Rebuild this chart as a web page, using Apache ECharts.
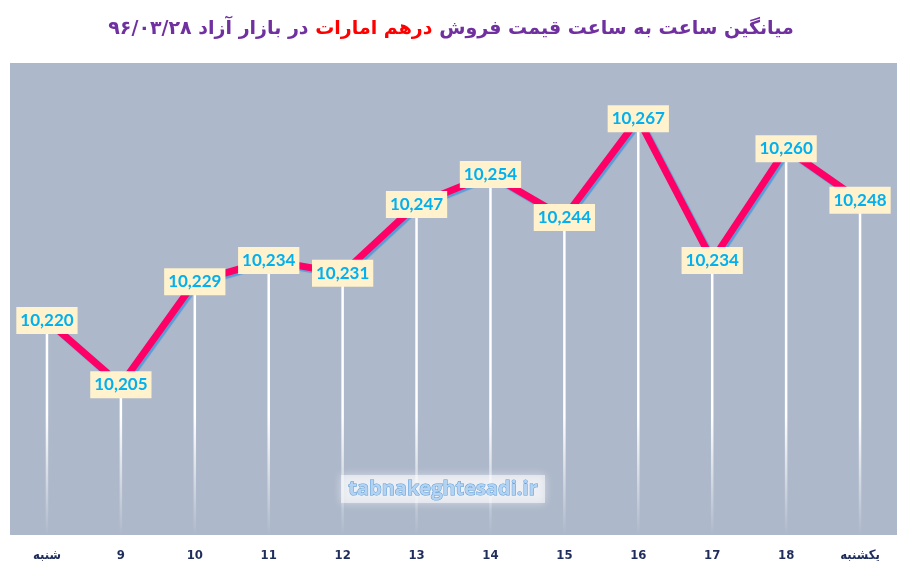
<!DOCTYPE html>
<html>
<head>
<meta charset="utf-8">
<script src="https://cdn.jsdelivr.net/npm/echarts@6/dist/echarts.min.js"></script>
<style>
  html, body { margin: 0; padding: 0; background: #fff; }
  #main { width: 902px; height: 567px; }
</style>
</head>
<body>
<div id="main"></div>
<script>
// hours of the day (first = Saturday, last = Sunday)
var categories = ['شنبه', '9', '10', '11', '12', '13', '14', '15', '16', '17', '18', 'یکشنبه'];
var prices = [10220, 10205, 10229, 10234, 10231, 10247, 10254, 10244, 10267, 10234, 10260, 10248];
var yMin = 10170;
var yMax = 10280;

var chart = echarts.init(document.getElementById('main'));

chart.setOption({
    backgroundColor: '#ffffff',
    animation: false,
    title: {
        left: 'center',
        top: 15,
        text: '{p|در بازار آزاد ۹۶/۰۳/۲۸ }{r|درهم امارات}{p| میانگین ساعت به ساعت قیمت فروش}',
        textStyle: {
            rich: {
                p: { color: '#7030a0', fontSize: 19, fontWeight: 'bold', fontFamily: 'DejaVu Sans' },
                r: { color: '#ff0000', fontSize: 19, fontWeight: 'bold', fontFamily: 'DejaVu Sans' }
            }
        }
    },
    grid: {
        left: 10, right: 5, top: 63, bottom: 32,
        show: true, backgroundColor: '#adb8ca', borderWidth: 0
    },
    xAxis: {
        type: 'category',
        data: categories,
        boundaryGap: true,
        axisLine: { show: false },
        axisTick: { show: false },
        axisLabel: {
            margin: 14,
            color: '#1f2d5c',
            fontSize: 13,
            fontWeight: 'bold',
            fontFamily: '"DejaVu Sans Condensed", "DejaVu Sans", sans-serif'
        }
    },
    yAxis: {
        type: 'value',
        min: yMin,
        max: yMax,
        show: false,
        splitLine: { show: false }
    },
    graphic: [
        {
            type: 'rect',
            shape: { x: 341, y: 475, width: 204, height: 28 },
            style: { fill: 'rgba(255,255,255,0.55)', shadowBlur: 8, shadowColor: 'rgba(255,255,255,0.9)' },
            z: 5
        },
        {
            type: 'text',
            x: 443, y: 489,
            style: {
                text: 'tabnakeghtesadi.ir',
                fill: '#b4d3f2',
                stroke: '#5b9bd5',
                lineWidth: 1,
                font: 'bold 20px "Open Sans", sans-serif',
                align: 'center',
                verticalAlign: 'middle'
            },
            z: 6
        }
    ],
    series: [
        {
            // white drop lines from each point to the bottom
            type: 'custom',
            z: 1,
            silent: true,
            data: prices,
            renderItem: function (params, api) {
                var top = api.coord([api.value(0), api.value(1)]);
                var bottom = api.coord([api.value(0), yMin]);
                var plotTop = api.coord([api.value(0), yMax]);
                return {
                    type: 'line',
                    shape: { x1: top[0], y1: top[1], x2: bottom[0], y2: bottom[1] },
                    style: {
                        lineWidth: 2.5,
                        stroke: new echarts.graphic.LinearGradient(0, plotTop[1], 0, bottom[1], [
                            { offset: 0, color: 'rgba(255,255,255,1)' },
                            { offset: 0.75, color: 'rgba(255,255,255,1)' },
                            { offset: 1, color: 'rgba(255,255,255,0)' }
                        ], true)
                    }
                };
            },
            encode: { x: 0, y: 1 }
        },
        {
            type: 'line',
            data: prices,
            z: 3,
            symbol: 'circle',
            symbolSize: 1,
            showSymbol: true,
            itemStyle: { color: 'rgba(255,0,102,0)' },
            lineStyle: {
                color: '#ff0066',
                width: 7,
                shadowColor: '#5b9bd5',
                shadowBlur: 1,
                shadowOffsetX: 2,
                shadowOffsetY: 2
            },
            label: {
                show: true,
                position: 'inside',
                formatter: function (p) {
                    return p.value.toLocaleString('en-US');
                },
                backgroundColor: '#fff2cc',
                padding: [6, 4, 4, 4],
                color: '#00b0f0',
                fontSize: 17,
                fontWeight: 'bold',
                fontFamily: 'Lato, "Open Sans", sans-serif'
            }
        }
    ]
});
</script>
</body>
</html>
